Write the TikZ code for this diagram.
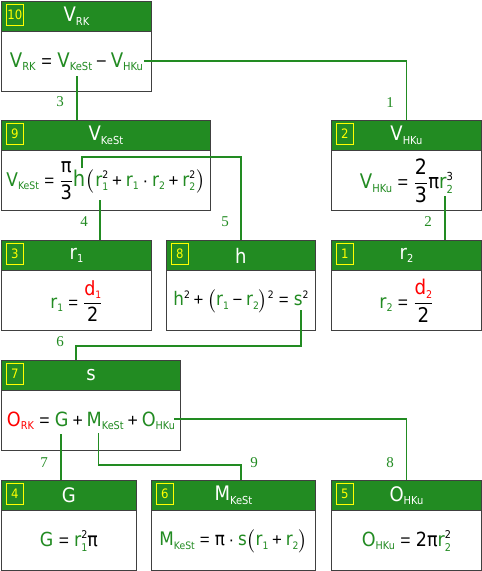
\documentclass[tikz,border=0pt]{standalone}
\usepackage{fontspec}
\usepackage{amsmath}
\usepackage{graphicx}
\setmainfont[FakeStretch=0.9]{DejaVu Sans}
\newfontfamily\lblfont{Liberation Serif}
\newfontfamily\opfont{Liberation Sans}
\usetikzlibrary{calc}
\definecolor{hdr}{HTML}{228B22}
\definecolor{fg}{HTML}{228B22}
\definecolor{bd}{HTML}{404040}
\definecolor{rd}{HTML}{FF0000}
\definecolor{yl}{HTML}{FFFF00}
\newcommand\G[1]{\textcolor{fg}{#1}}
\newcommand\R[1]{\textcolor{rd}{#1}}
\newcommand\sbx[1]{\raisebox{-3.5pt}{\fontsize{11}{11}\selectfont #1}}
\newcommand\spx[1]{\raisebox{8pt}{\fontsize{11}{11}\selectfont #1}}
\newcommand\ssx[2]{\makebox[0pt][l]{\raisebox{-5pt}{\fontsize{11}{11}\selectfont #1}}\spx{#2}}
\newcommand\fr[2]{$\dfrac{\text{#1}}{\text{#2}}$}
\newcommand\op[1]{\hspace{4pt}{\opfont\fontsize{18}{18}\selectfont #1}\hspace{4pt}}
\newcommand\eq{\hspace{5.5pt}{\opfont\fontsize{18}{18}\selectfont =}\hspace{5.5pt}}
\newcommand\fw[2]{\resizebox{#1pt}{!}{#2}}
\newcommand\mkbox[7]{%
  \node[bodybox, minimum width=#4pt, anchor=north west] (#1) at (#2,#3) {};
  \node[hdrbox, minimum width=#4pt, anchor=north west] (#1h) at (#2,#3) {};
  \node[numbox, anchor=north west] (#1n) at ($(#2,#3)+(5,3)$) {#5};
  \node[titletext] (#1t) at (#1h.center) {#6};
  \node[formtext] (#1f) at ($(#1.south)!0.5!(#1h.south)$) {#7};
}
\tikzset{
  bodybox/.style={rectangle, draw=bd, fill=white, line width=0.9pt, minimum height=90pt, inner sep=0pt},
  hdrbox/.style={rectangle, draw=bd, fill=hdr, line width=0.9pt, minimum height=30pt, inner sep=0pt},
  numbox/.style={rectangle, draw=yl, line width=0.8pt, text=yl, minimum width=17pt, minimum height=21pt, inner sep=0pt, font=\fontsize{13}{13}\selectfont},
  titletext/.style={text=white, inner sep=0pt, font=\fontsize{20}{22}\selectfont},
  formtext/.style={text=black, inner sep=0pt, font=\fontsize{20}{22}\selectfont},
  conn/.style={draw=hdr, line width=1.6pt},
  lbl/.style={text=hdr, inner sep=0pt, font=\lblfont\fontsize{15}{15}\selectfont},
}
\begin{document}
\begin{tikzpicture}[x=1pt, y=-1pt]
\useasboundingbox[fill=white] (0,0) rectangle (482,571);
% boxes
\mkbox{b10}{1}{1}{150}{10}{V\sbx{RK}}{\fw{133}{\G{V\sbx{RK}}\eq\G{V\sbx{KeSt}}\op{−}\G{V\sbx{HKu}}}}
\mkbox{b9}{1}{120}{209}{9}{V\sbx{KeSt}}{\fw{199}{\G{V\sbx{KeSt}}\eq{\fontsize{21}{23}\selectfont\fr{π}{3}}{\fontsize{23}{25}\selectfont\G{h}}$\left(\vrule height 17pt depth 8pt width 0pt\right.$\G{r}\ssx{\G{1}}{2}\op{+}\G{r\sbx{1}}\op{·}\G{r\sbx{2}}\op{+}\G{r}\ssx{\G{2}}{2}$\left.\vrule height 17pt depth 8pt width 0pt\right)$}}
\mkbox{b2}{331}{120}{150}{2}{V\sbx{HKu}}{\fw{93}{\G{V\sbx{HKu}}\eq{\fontsize{21}{23}\selectfont\fr{2}{3}}π\G{r}\ssx{\G{2}}{3}}}
\mkbox{b3}{1}{240}{150}{3}{r\sbx{1}}{\fw{52}{\G{r\sbx{1}}\eq{\fontsize{21}{23}\selectfont\fr{\R{d\sbx{1}}}{2}}}}
\mkbox{b8}{166}{240}{149}{8}{h}{\fw{135}{\G{h}\spx{2}\op{+}$\bigl($\G{r\sbx{1}}\op{−}\G{r\sbx{2}}$\bigr)$\spx{2}\eq\G{s}\spx{2}}}
\mkbox{b1}{331}{240}{150}{1}{r\sbx{2}}{\fw{54}{\G{r\sbx{2}}\eq{\fontsize{21}{23}\selectfont\fr{\R{d\sbx{2}}}{2}}}}
\mkbox{b7}{1}{360}{179}{7}{s}{\fw{168}{\R{O\sbx{RK}}\eq\G{G}\op{+}\G{M\sbx{KeSt}}\op{+}\G{O\sbx{HKu}}}}
\mkbox{b4}{1}{480}{135}{4}{G}{\fw{58}{\G{G}\eq\G{r}\ssx{\G{1}}{2}π}}
\mkbox{b6}{151}{480}{164}{6}{M\sbx{KeSt}}{\fw{148}{\G{M\sbx{KeSt}}\eq π\op{·}\G{s}$\bigl($\G{r\sbx{1}}\op{+}\G{r\sbx{2}}$\bigr)$}}
\mkbox{b5}{331}{480}{150}{5}{O\sbx{HKu}}{\fw{89}{\G{O\sbx{HKu}}\eq 2π\G{r}\ssx{\G{2}}{2}}}
% connector start points
\coordinate (s1) at (144,61);
\coordinate (s3) at (77,76);
\coordinate (s5) at (82,168);
\coordinate (k5) at (82,157);
\coordinate (s4) at (100,200);
\coordinate (s2) at (445,196);
\coordinate (s6) at (301,310);
\coordinate (k6) at (301,346);
\coordinate (t6) at (76,346);
\coordinate (s7) at (61,434);
\coordinate (s9) at (98.5,433);
\coordinate (k9) at (98.5,465);
\coordinate (t9) at (241,465);
\coordinate (s8) at (174,419);
% connectors
\draw[conn] (s1) -| (b2.north);
\draw[conn] (s3) -- (s3 |- b9.north);
\draw[conn] (s5) -- (k5) -| (b8.north);
\draw[conn] (s4) -- (s4 |- b3.north);
\draw[conn] (s2) -- (s2 |- b1.north);
\draw[conn] (s6) -- (k6) -- (t6) -- (t6 |- b7.north);
\draw[conn] (s7) -- (s7 |- b4.north);
\draw[conn] (s9) -- (k9) -- (t9) -- (t9 |- b6.north);
\draw[conn] (s8) -| (b5.north);
% labels
\node[lbl] (l1) at (390,103) {1};
\node[lbl] (l3) at (60,102) {3};
\node[lbl] (l4) at (84,222) {4};
\node[lbl] (l5) at (225,222) {5};
\node[lbl] (l2) at (428,222) {2};
\node[lbl] (l6) at (60,342) {6};
\node[lbl] (l7) at (44,463) {7};
\node[lbl] (l9) at (254,463) {9};
\node[lbl] (l8) at (390,463) {8};
\end{tikzpicture}
\end{document}
